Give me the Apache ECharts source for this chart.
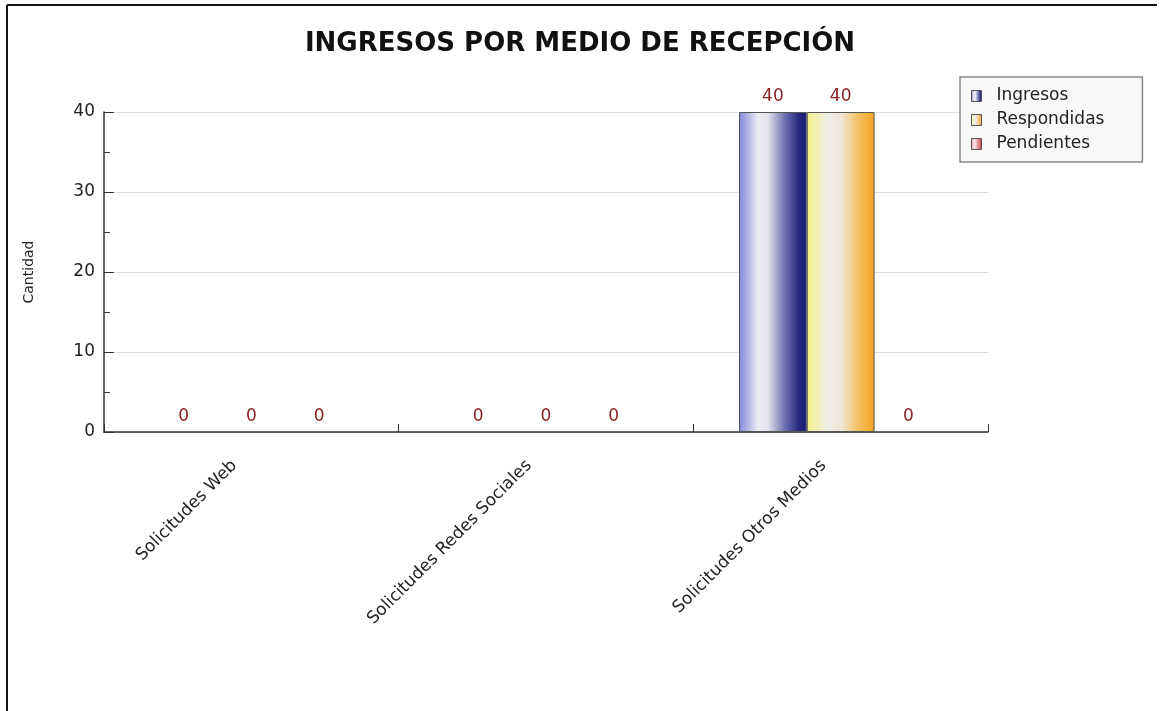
<!DOCTYPE html>
<html><head><meta charset="utf-8">
<script src="https://cdn.jsdelivr.net/npm/echarts@6/dist/echarts.min.js"></script>
<style>html,body{margin:0;padding:0;background:#fff}#c{width:1160px;height:711px}</style>
</head><body><div id="c"></div>
<script>
var categories = ['Solicitudes Web', 'Solicitudes Redes Sociales', 'Solicitudes Otros Medios'];
var seriesNames = ['Ingresos', 'Respondidas', 'Pendientes'];
var ingresos = [0, 0, 40];
var respondidas = [0, 0, 40];
var pendientes = [0, 0, 0];
var yTicks = [0, 10, 20, 30, 40];

var colors = [
  new echarts.graphic.LinearGradient(0, 0, 1, 0, [
    {offset: 0, color: '#8286dc'}, {offset: 0.28, color: '#ebebf2'}, {offset: 0.42, color: '#e6e6ee'}, {offset: 0.68, color: '#6c6fb0'}, {offset: 0.88, color: '#27297e'}, {offset: 1, color: '#1a1c78'}
  ]),
  new echarts.graphic.LinearGradient(0, 0, 1, 0, [
    {offset: 0, color: '#f5f282'}, {offset: 0.3, color: '#eeeeea'}, {offset: 0.5, color: '#efe6d8'}, {offset: 0.75, color: '#f3c266'}, {offset: 1, color: '#f5a21e'}
  ]),
  new echarts.graphic.LinearGradient(0, 0, 1, 0, [
    {offset: 0, color: '#e99aa0'}, {offset: 0.35, color: '#f6e6e8'}, {offset: 0.7, color: '#e08088'}, {offset: 1, color: '#c0303a'}
  ])
];
var data = [ingresos, respondidas, pendientes];

var chart = echarts.init(document.getElementById('c'), null, {renderer: 'canvas'});
var font = 'DejaVu Sans, Verdana, sans-serif';
chart.setOption({
  animation: false,
  textStyle: {fontFamily: font},
  title: {
    text: 'INGRESOS POR MEDIO DE RECEPCIÓN',
    left: 'center', top: 26,
    textStyle: {fontFamily: font, fontSize: 26, fontWeight: 'bold', color: '#111'}
  },
  legend: {
    orient: 'vertical', left: 960, top: 77,
    padding: [10, 38, 9, 11],
    itemWidth: 10, itemHeight: 11, itemGap: 6,
    icon: 'rect',
    borderColor: '#8a8a8a', borderWidth: 1.5,
    backgroundColor: '#f9f9f9',
    textStyle: {fontFamily: font, fontSize: 17, color: '#222', padding: [0, 0, 0, 10], lineHeight: 18},
    itemStyle: {borderColor: '#555', borderWidth: 1},
    data: seriesNames
  },
  grid: {left: 104, right: 172, top: 112, bottom: 279, containLabel: false},
  xAxis: {
    type: 'category', data: categories, boundaryGap: true,
    axisLine: {lineStyle: {color: '#333', width: 1.5}},
    axisTick: {show: true, inside: true, length: 8, interval: 0, lineStyle: {color: '#333'}},
    axisLabel: {rotate: 45, interval: 0, margin: 14, fontSize: 17, color: '#222', fontFamily: font, padding: [0, 24, 0, 0]}
  },
  yAxis: {
    type: 'value', min: 0, max: 40, interval: 10,
    name: 'Cantidad', nameLocation: 'middle', nameGap: 68, nameRotate: 90,
    nameTextStyle: {fontSize: 14, color: '#222', fontFamily: font},
    axisLine: {show: true, lineStyle: {color: '#333', width: 1.5}},
    axisTick: {show: true, inside: true, length: 10, lineStyle: {color: '#333'}},
    minorTick: {show: true, splitNumber: 2, length: 6, lineStyle: {color: '#333'}},
    splitLine: {show: true, lineStyle: {color: '#dedede'}},
    axisLabel: {
      fontSize: 17, color: '#222', margin: 9, fontFamily: font,
      formatter: function (v) { return yTicks.indexOf(v) >= 0 ? String(v) : ''; }
    }
  },
  series: seriesNames.map(function (n, i) {
    return {
      name: n, type: 'bar',
      data: data[i].map(function (v) {
        return v === 0 ? {value: v, itemStyle: {borderWidth: 0}} : {value: v};
      }),
      barGap: 0, barCategoryGap: '31%',
      itemStyle: {color: colors[i], borderColor: '#555', borderWidth: 1},
      label: {show: true, position: 'top', distance: 7, color: '#8b2222', fontSize: 17, fontFamily: font}
    };
  }),
  graphic: [
    {type: 'line', shape: {x1: 7, y1: 5, x2: 1157, y2: 5}, style: {stroke: '#111', lineWidth: 2}},
    {type: 'line', shape: {x1: 7, y1: 5, x2: 7, y2: 711}, style: {stroke: '#111', lineWidth: 2}}
  ]
});
</script></body></html>
